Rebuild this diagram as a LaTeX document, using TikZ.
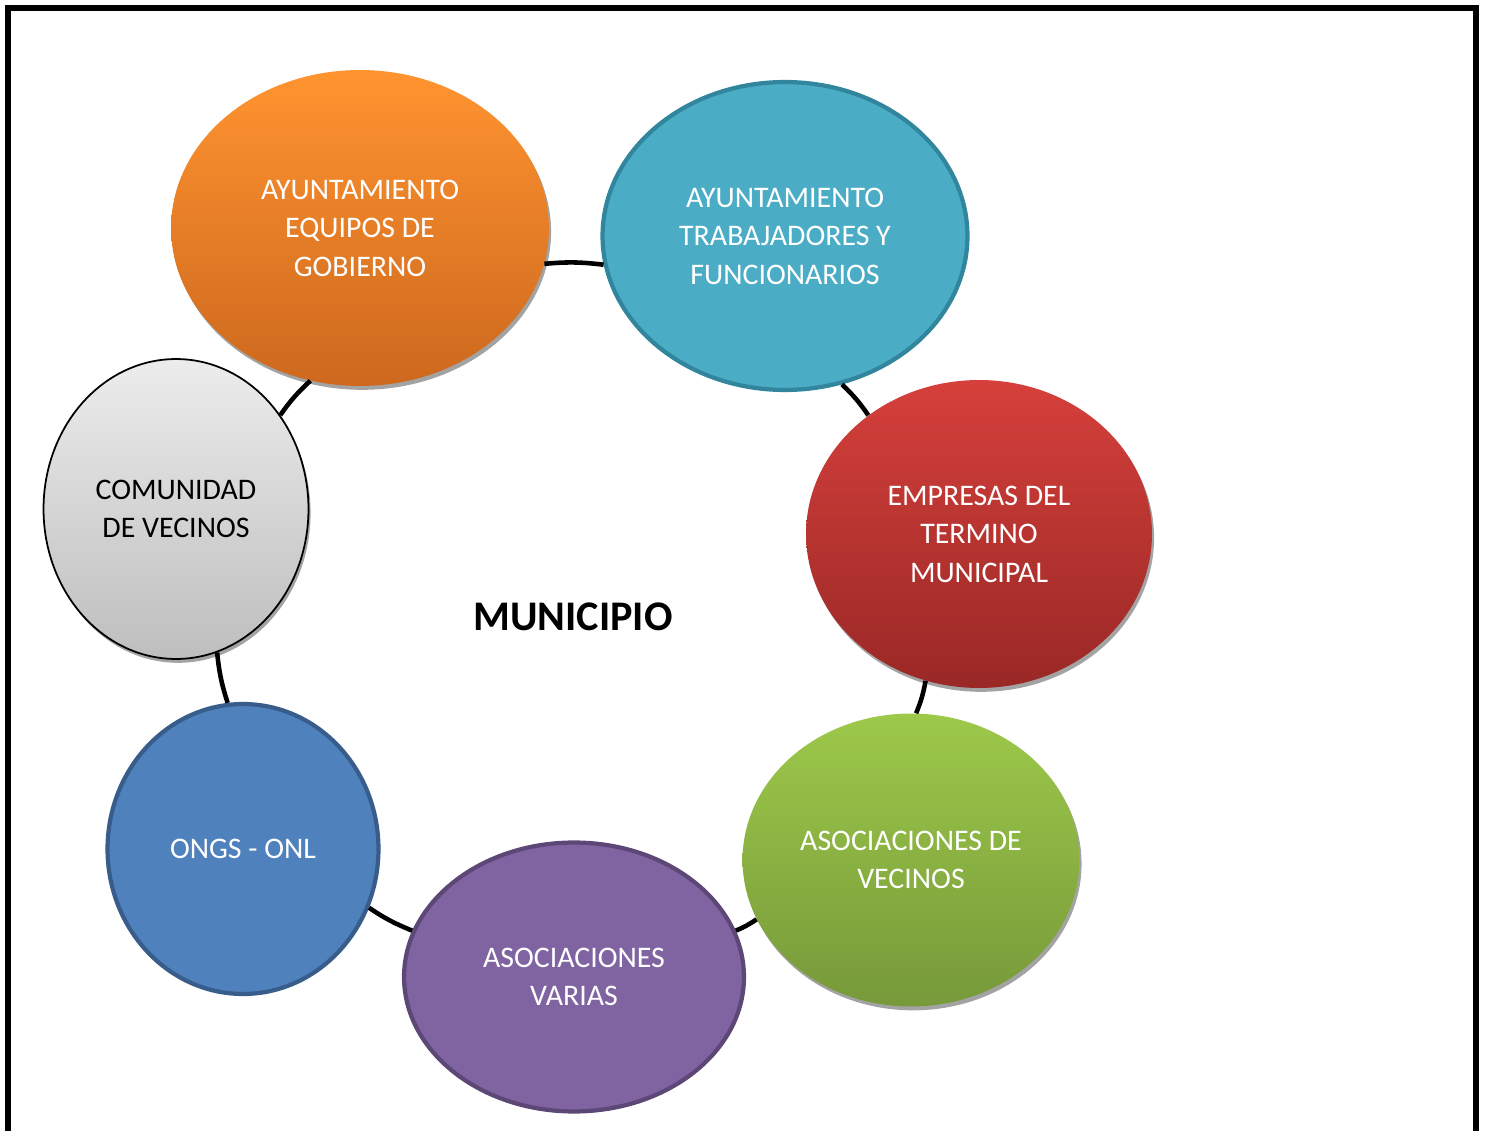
\documentclass[tikz,border=0pt]{standalone}
\usepackage{fontspec}
\setmainfont{Carlito}
\usetikzlibrary{shapes.geometric,shadows}

\definecolor{naranjaTop}{RGB}{255,148,48}
\definecolor{naranjaBot}{RGB}{205,104,30}
\definecolor{rojoTop}{RGB}{214,64,59}
\definecolor{rojoBot}{RGB}{153,40,38}
\definecolor{verdeTop}{RGB}{157,201,74}
\definecolor{verdeBot}{RGB}{119,153,58}
\definecolor{grisTop}{RGB}{236,236,236}
\definecolor{grisBot}{RGB}{190,190,190}
\definecolor{azulVerde}{RGB}{75,172,198}
\definecolor{azulVerdeBorde}{RGB}{49,133,156}
\definecolor{azul}{RGB}{79,129,189}
\definecolor{azulBorde}{RGB}{56,93,138}
\definecolor{morado}{RGB}{128,100,162}
\definecolor{moradoBorde}{RGB}{92,71,118}

\tikzset{
	grupo/.style={ellipse, inner sep=0pt, align=center, text=white,
		font=\fontsize{17}{21.9}\selectfont},
	sombra/.style={drop shadow={shadow xshift=1.2pt, shadow yshift=-2.2pt, fill=black!45, opacity=0.8}},
	anillo/.style={line width=2.6pt, black},
	marco/.style={line width=3.4pt, black}
}

\begin{document}
\begin{tikzpicture}[x=0.02cm, y=-0.02cm]
	\useasboundingbox (0, 0) rectangle (1487, 1131);
	%%%%% START %%%%%
	
	\draw[marco] (8, 1131) -- (8, 8) -- (1476, 8) -- (1476, 1131);
	
	\node[grupo, sombra, minimum width=7.56cm, minimum height=6.32cm, top color=naranjaTop, bottom color=naranjaBot] (gobierno) at (360, 228) {AYUNTAMIENTO\\EQUIPOS DE\\GOBIERNO};
	\node[grupo, minimum width=7.3cm, minimum height=6.16cm, fill=azulVerde, draw=azulVerdeBorde, line width=2.4pt] (trabajadores) at (785, 236) {AYUNTAMIENTO\\TRABAJADORES Y\\FUNCIONARIOS};
	\node[grupo, sombra, minimum width=6.92cm, minimum height=6.16cm, top color=rojoTop, bottom color=rojoBot] (empresas) at (979, 534) {EMPRESAS DEL\\TERMINO\\MUNICIPAL};
	\node[grupo, sombra, minimum width=6.74cm, minimum height=5.86cm, top color=verdeTop, bottom color=verdeBot] (vecinos) at (911, 860) {ASOCIACIONES DE\\VECINOS};
	\node[grupo, minimum width=6.8cm, minimum height=5.38cm, fill=morado, draw=moradoBorde, line width=2.4pt] (varias) at (574, 977) {ASOCIACIONES\\VARIAS};
	\node[grupo, minimum width=5.42cm, minimum height=5.8cm, fill=azul, draw=azulBorde, line width=2.4pt] (ongs) at (243, 849) {ONGS - ONL};
	\node[grupo, sombra, minimum width=5.3cm, minimum height=6cm, top color=grisTop, bottom color=grisBot, draw=black, line width=1pt, text=black] (comunidad) at (176, 509) {COMUNIDAD\\DE VECINOS};
	
	\node[font=\fontsize{24}{28}\selectfont\bfseries] (municipio) at (573, 617) {MUNICIPIO};
	
	% anillo entre grupos
	\draw[anillo] (gobierno.-11) to[bend left=6] (trabajadores.189);
	\draw[anillo] (trabajadores.-69) to[bend left=6] (empresas.133);
	\draw[anillo] (empresas.250) to[bend left=6] (vecinos.88);
	\draw[anillo] (vecinos.201) to[bend left=6] (varias.16);
	\draw[anillo] (varias.164) to[bend left=6] (ongs.-25);
	\draw[anillo] (ongs.96) to[bend left=6] (comunidad.-74);
	\draw[anillo] (comunidad.42) to[bend left=6] (gobierno.252);
	
	%%%%% END %%%%%
\end{tikzpicture}
\end{document}
